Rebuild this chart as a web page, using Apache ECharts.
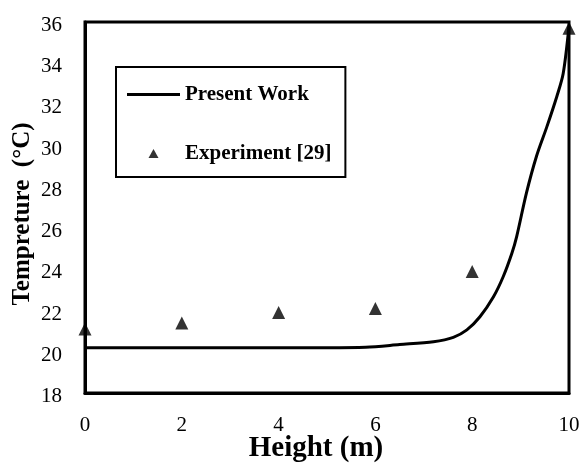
<!DOCTYPE html>
<html>
<head>
<meta charset="utf-8">
<script src="https://cdn.jsdelivr.net/npm/echarts@6/dist/echarts.min.js"></script>
<style>
  html, body { margin: 0; padding: 0; background: #fff; }
  #chart { width: 587px; height: 464px; }
</style>
</head>
<body>
<div id="chart"></div>
<script>
// Simulated temperature profile along the height
const simHeight = [0, 1, 2, 3, 4, 5, 5.8, 6.5, 7.2, 7.61, 7.89, 8.16, 8.44, 8.64, 8.82, 8.92, 9.12, 9.33, 9.54, 9.75, 9.88, 10];
const simTemp   = [20.2, 20.2, 20.2, 20.2, 20.2, 20.2, 20.22, 20.35, 20.49, 20.7, 21.06, 21.7, 22.67, 23.64, 24.78, 25.6, 27.7, 29.5, 30.9, 32.4, 33.5, 35.8];

// Measured points
const expHeight = [0, 2, 4, 6, 8, 10];
const expTemp   = [21.1, 21.4, 21.9, 22.1, 23.9, 35.7];

const seriesNames = ['Present Work', 'Experiment [29]'];
const xTicks = [0, 2, 4, 6, 8, 10];
const yTicks = [18, 20, 22, 24, 26, 28, 30, 32, 34, 36];
const xTitle = 'Height (m)';
const yTitle = 'Tempreture  (°C)';

const serif = '"Liberation Serif", "Times New Roman", serif';

const chart = echarts.init(document.getElementById('chart'), null, { renderer: 'canvas' });

chart.setOption({
  animation: false,
  backgroundColor: '#fff',
  grid: {
    left: 85, right: 18, top: 22, bottom: 71,
    outerBoundsMode: 'none',
    containLabel: false,
    show: true, borderColor: '#000', borderWidth: 3, backgroundColor: 'transparent'
  },
  xAxis: {
    type: 'value',
    min: xTicks[0], max: xTicks[xTicks.length - 1], interval: 2,
    axisLine: { show: true, lineStyle: { color: '#000', width: 3 } },
    axisTick: { show: false },
    splitLine: { show: false },
    axisLabel: { fontFamily: serif, fontSize: 21, color: '#000', margin: 22 }
  },
  yAxis: {
    type: 'value',
    min: yTicks[0], max: yTicks[yTicks.length - 1], interval: 2,
    axisLine: { show: true, lineStyle: { color: '#000', width: 3 } },
    axisTick: { show: false },
    splitLine: { show: false },
    // labels sit a few pixels below their tick value
    axisLabel: { fontFamily: serif, fontSize: 21, color: '#000', margin: 23, verticalAlign: 'top', lineHeight: 7 }
  },
  graphic: [
    {
      type: 'text',
      x: 316, y: 449,
      style: {
        text: xTitle, fontFamily: serif, fontWeight: 'bold', fontSize: 29,
        fill: '#000', align: 'center', verticalAlign: 'middle'
      }
    },
    {
      type: 'text',
      x: 23, y: 214,
      rotation: Math.PI / 2,
      style: {
        text: yTitle, fontFamily: serif, fontWeight: 'bold', fontSize: 25,
        fill: '#000', align: 'center', verticalAlign: 'middle'
      }
    }
  ],
  legend: {
    orient: 'vertical',
    left: 116, top: 67,
    padding: [17, 14, 13, 11],
    itemGap: 38,
    itemWidth: 53, itemHeight: 10,
    borderColor: '#000', borderWidth: 2,
    textStyle: { fontFamily: serif, fontWeight: 'bold', fontSize: 21, color: '#000' },
    data: [
      { name: seriesNames[0], icon: 'path://M0,3.5L53,3.5L53,6.5L0,6.5Z M0,0M53,10' },
      { name: seriesNames[1], icon: 'path://M0,0M53,10M21.5,9.5L26.5,0.5L31.5,9.5Z' }
    ]
  },
  series: [
    {
      name: seriesNames[0],
      type: 'line',
      data: simHeight.map((h, i) => [h, simTemp[i]]),
      smooth: 0.3,
      symbol: 'none',
      lineStyle: { color: '#000', width: 3 },
      itemStyle: { color: '#000' },
      clip: false,
      z: 2
    },
    {
      name: seriesNames[1],
      type: 'scatter',
      data: expHeight.map((h, i) => [h, expTemp[i]]),
      symbol: 'triangle',
      symbolSize: 13,
      itemStyle: { color: '#000' },
      clip: false,
      z: 3
    }
  ]
});
</script>
</body>
</html>
